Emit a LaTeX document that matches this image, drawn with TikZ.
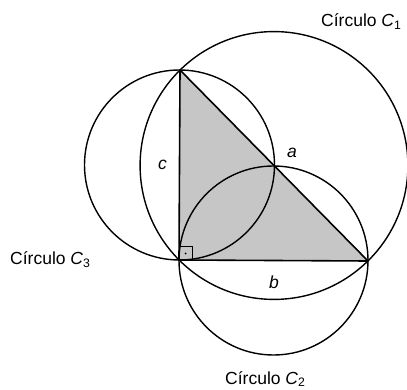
\documentclass[tikz,border=0pt]{standalone}
\usepackage{fontspec}
\setmainfont{Liberation Sans}
\usetikzlibrary{calc, through}

\begin{document}
\begin{tikzpicture}[x=1pt, y=-1pt,
  every node/.style={font=\fontsize{17.5}{20}\selectfont},
  rim/.style={draw, line width=1.4pt, inner sep=0pt},
  side/.style={line width=1.6pt, line join=round},
  lbl/.style={anchor=base west, inner sep=0pt}
]
  \useasboundingbox (0,0) rectangle (407,390);
  \coordinate (A) at (179,260);
  \coordinate (B) at (180,70);
  \coordinate (C) at (368,261);
  \filldraw[fill=gray!45, side] (A) -- (B) -- (C) -- cycle;
  \node[rim, circle through=(A)] (C1) at ($(B)!0.5!(C)$) {};
  \node[rim, circle through=(B)] (C3) at ($(A)!0.5!(B)$) {};
  \node[rim, circle through=(C)] (C2) at ($(A)!0.5!(C)$) {};
  % right angle mark
  \draw[line width=1pt] (A) rectangle ++(13,-13);
  \fill ($(A)+(6.5,-6.5)$) circle (1);
  \node[lbl] (la) at (287,158) {\textit{a}};
  \node[lbl] (lb) at (269,288) {\textit{b}};
  \node[lbl] (lc) at (158,170) {\textit{c}};
  \node[lbl] (n1) at (321,27) {Círculo \textit{C}\textsubscript{1}};
  \node[lbl] (n3) at (10,265) {Círculo \textit{C}\textsubscript{3}};
  \node[lbl] (n2) at (225,384) {Círculo \textit{C}\textsubscript{2}};
\end{tikzpicture}
\end{document}
